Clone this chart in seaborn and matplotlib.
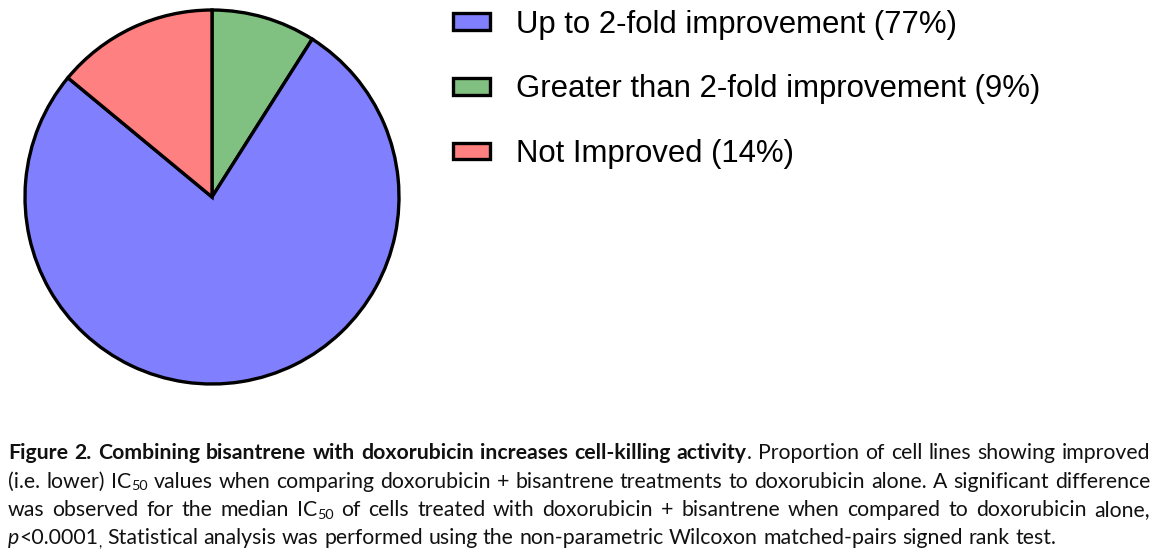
# Tortendiagramm: Anteil der Zelllinien mit verbesserten IC50-Werten
import matplotlib
matplotlib.use("Agg")
import matplotlib.pyplot as plt
import seaborn as sns

# Daten
kategorien = ["Up to 2-fold improvement", "Greater than 2-fold improvement", "Not Improved"]
anteile = [77, 9, 14]
farben = ["#8080ff", "#80c080", "#ff8080"]
# Reihenfolge im Uhrzeigersinn ab 12 Uhr (grün, blau, rot)
reihenfolge = [1, 0, 2]

W, H = 1165, 557
sns.set_theme(style="white")
plt.rcParams['font.family'] = ['Liberation Sans', 'DejaVu Sans']

fig = plt.figure(figsize=(W / 100, H / 100), dpi=100)
fig.patch.set_facecolor("white")

# Torte: Mittelpunkt ca. (212, 197), Radius ca. 187 px
r = 187
ax = fig.add_axes([(212 - r) / W, 1 - (197 + r) / H, 2 * r / W, 2 * r / H])
wedges, _ = ax.pie([anteile[i] for i in reihenfolge],
                   colors=[farben[i] for i in reihenfolge],
                   startangle=90, counterclock=False,
                   wedgeprops=dict(edgecolor="black", linewidth=2.4))
for w in wedges:
    w.set_clip_on(False)
ax.set_xlim(-1, 1)
ax.set_ylim(-1, 1)
ax.set_aspect("equal")
ax.axis("off")

# Legende in der Reihenfolge blau, grün, rot
handles = [wedges[reihenfolge.index(i)] for i in range(len(kategorien))]
labels = [f"{k} ({a}%)" for k, a in zip(kategorien, anteile)]
leg = fig.legend(handles, labels, loc="upper left", bbox_to_anchor=(453 / W, 1 - 9.5 / H),
                 frameon=False, fontsize=22.4, handlelength=1.19, handleheight=0.45,
                 handletextpad=0.84, labelspacing=1.12, borderaxespad=0, borderpad=0)
for t in leg.get_texts():
    t.set_color("black")

# Bildunterschrift (Blocksatz, gemischte Formatierung)
FS = 15.3
stile = {
    "n": dict(fontsize=FS, family="Lato"),
    "b": dict(fontsize=FS, family="Lato", fontweight="bold"),
    "i": dict(fontsize=FS, family="Lato", fontstyle="italic"),
    "sub": dict(fontsize=FS * 0.68, family="Lato"),
}
zeilen = [
    [("Figure 2. Combining bisantrene with doxorubicin increases cell-killing activity", "b"),
     (". Proportion of cell lines showing improved", "n")],
    [("(i.e. lower) IC", "n"), ("50", "sub"),
     (" values when comparing doxorubicin + bisantrene treatments to doxorubicin alone. A significant difference", "n")],
    [("was observed for the median IC", "n"), ("50", "sub"),
     (" of cells treated with doxorubicin + bisantrene when compared to doxorubicin alone,", "n")],
    [("p", "i"), ("<0.0001", "n"), (",", "sub"),
     (" Statistical analysis was performed using the non-parametric Wilcoxon matched-pairs signed rank test.", "n")],
]
grundlinien = [459, 487.5, 516, 544.5]
x0, x1 = 8, 1150

fig.canvas.draw()
renderer = fig.canvas.get_renderer()


def breite(s, st):
    t = fig.text(0, 0, s, **stile[st])
    b = t.get_window_extent(renderer).width
    t.remove()
    return b


def woerter(segmente):
    ws = [[]]
    for txt, st in segmente:
        teile = txt.split(" ")
        for k, p in enumerate(teile):
            if k > 0:
                ws.append([])
            if p:
                ws[-1].append((p, st))
    return [w for w in ws if w]


leer = breite("x x", "n") - breite("xx", "n")
for nr, (segmente, yb) in enumerate(zip(zeilen, grundlinien)):
    ws = woerter(segmente)
    wbreiten = [sum(breite(p, st) for p, st in w) for w in ws]
    if nr < len(zeilen) - 1:
        luecke = (x1 - x0 - sum(wbreiten)) / (len(ws) - 1)
    else:
        luecke = leer
    x = x0
    for w, wb in zip(ws, wbreiten):
        for p, st in w:
            dy = 3 if st == "sub" else 0
            fig.text(x / W, 1 - (yb + dy) / H, p, ha="left", va="baseline",
                     color="#111111", **stile[st])
            x += breite(p, st)
        x += luecke

fig.savefig("out.png", dpi=100, facecolor="white")
